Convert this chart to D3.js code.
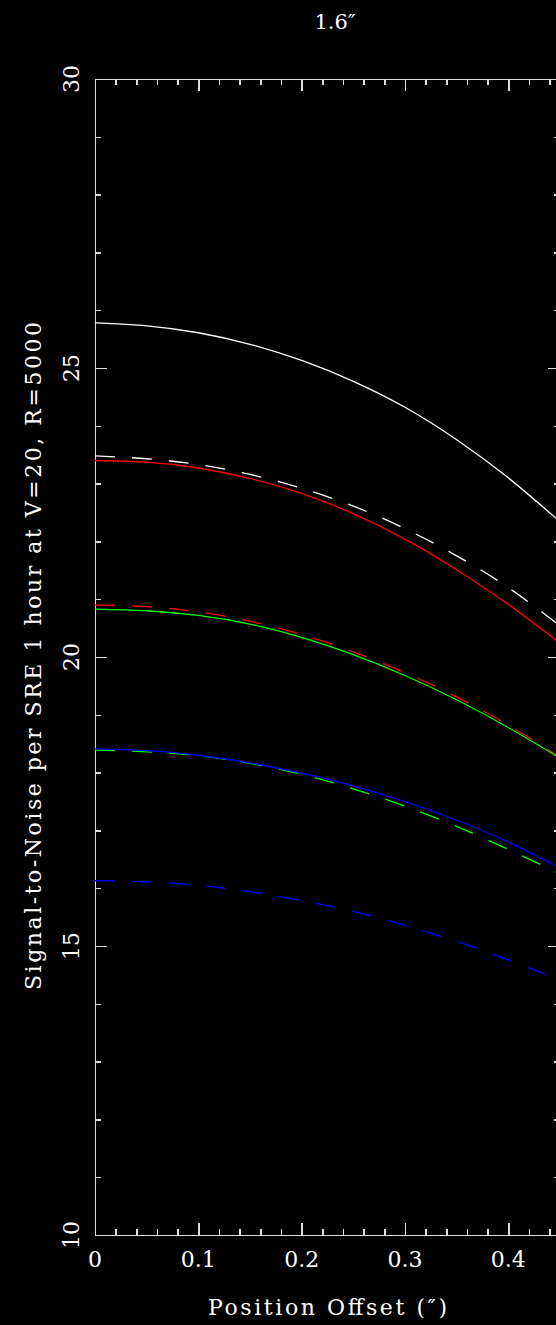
<!DOCTYPE html>
<html>
<head>
<meta charset="utf-8">
<script src="https://cdn.jsdelivr.net/npm/d3@7"></script>
<style>
  body { margin: 0; background: #000; }
  svg { display: block; }
  text { font-family: "DejaVu Serif", serif; fill: #fff; }
</style>
</head>
<body>
<script>

// position offset (arcsec) and S/N curves
const offsets = [0, 0.05, 0.1, 0.15, 0.2, 0.25, 0.3, 0.35, 0.4, 0.45];
const whiteSolid  = [25.78, 25.73, 25.61, 25.41, 25.13, 24.77, 24.32, 23.76, 23.10, 22.34];
const whiteDashed = [23.48, 23.43, 23.33, 23.16, 22.92, 22.61, 22.22, 21.75, 21.20, 20.54];
const redSolid    = [23.40, 23.37, 23.27, 23.09, 22.83, 22.48, 22.04, 21.51, 20.91, 20.24];
const redDashed   = [20.90, 20.87, 20.78, 20.62, 20.39, 20.09, 19.73, 19.31, 18.82, 18.27];
const greenSolid  = [20.83, 20.80, 20.72, 20.57, 20.34, 20.04, 19.68, 19.26, 18.78, 18.25];
const greenDashed = [18.39, 18.36, 18.29, 18.16, 17.97, 17.72, 17.42, 17.07, 16.67, 16.25];
const blueSolid   = [18.41, 18.38, 18.30, 18.17, 17.99, 17.77, 17.50, 17.18, 16.80, 16.35];
const blueDashed  = [16.13, 16.11, 16.05, 15.94, 15.79, 15.60, 15.36, 15.08, 14.76, 14.41];

const xTicks = [0, 0.1, 0.2, 0.3, 0.4];
const yTicks = [10, 15, 20, 25, 30];

const title = "1.6\u2033";
const xTitle = "Position Offset (\u2033)";
const yTitle = "Signal-to-Noise per SRE 1 hour at V=20, R=5000";

var w = 556, h = 1325;
const margin = {top: 79, left: 95, right: 560, bottom: 1235};

const svg = d3.select("body").append("svg")
    .attr("width", w)
    .attr("height", h);

svg.append("rect").attr("width", w).attr("height", h).attr("fill", "#000");

const x = d3.scaleLinear().domain([0, 0.45]).range([margin.left, margin.right]);
const y = d3.scaleLinear().domain([10, 30]).range([margin.bottom, margin.top]);

const minorX = d3.range(0, 0.451, 0.02).map(d => +d.toFixed(2));
const minorY = d3.range(10, 31, 1);

function styleAxis(sel) {
    sel.selectAll("path").attr("stroke", "#ddd").attr("stroke-width", 1.5);
    sel.selectAll("line").attr("stroke", "#ddd").attr("stroke-width", 1.5);
    sel.attr("shape-rendering", "crispEdges");
}

// frame + ticks (all pointing inward)
[[d3.axisRight(y), minorY, 6, yTicks, 12, `translate(${margin.left},0)`],
 [d3.axisLeft(y), minorY, 6, yTicks, 12, `translate(${margin.right},0)`],
 [d3.axisTop(x), minorX, 6, xTicks, 12, `translate(0,${margin.bottom})`],
 [d3.axisBottom(x), minorX, 6, xTicks, 12, `translate(0,${margin.top})`]
].forEach(a => {
    svg.append("g").attr("transform", a[5])
        .call(a[0].tickValues(a[1]).tickSize(a[2]).tickSizeOuter(0).tickFormat(""))
        .call(styleAxis);
    svg.append("g").attr("transform", a[5])
        .call(a[0].tickValues(a[3]).tickSize(a[4]).tickSizeOuter(0).tickFormat(""))
        .call(styleAxis);
});

// tick labels
svg.append("g").selectAll("text")
    .data(xTicks)
    .enter().append("text")
    .attr("x", d => x(d))
    .attr("y", 1267)
    .attr("text-anchor", "middle")
    .style("font-size", "22px")
    .text(d => d === 0 ? "0" : d3.format(".1f")(d));

svg.append("g").selectAll("text")
    .data(yTicks)
    .enter().append("text")
    .attr("transform", d => "translate(79," + y(d) + ") rotate(-90)")
    .attr("text-anchor", "middle")
    .style("font-size", "22px")
    .text(d => d);

// titles
svg.append("text")
    .attr("x", 335).attr("y", 29)
    .attr("text-anchor", "middle")
    .style("font-size", "21px")
    .text(title);

svg.append("text")
    .attr("x", 208).attr("y", 1315)
    .attr("textLength", 239)
    .attr("lengthAdjust", "spacing")
    .style("font-size", "22px")
    .text(xTitle);

svg.append("text")
    .attr("transform", "translate(41,990) rotate(-90)")
    .attr("textLength", 668)
    .attr("lengthAdjust", "spacing")
    .style("font-size", "22px")
    .text(yTitle);

// curves
const series = [
    {v: whiteSolid,  color: "#ffffff", dash: null},
    {v: whiteDashed, color: "#ffffff", dash: "20,17"},
    {v: redSolid,    color: "#ff0000", dash: null},
    {v: redDashed,   color: "#ff0000", dash: "20,17"},
    {v: greenSolid,  color: "#00ff00", dash: null},
    {v: greenDashed, color: "#00ff00", dash: "20,17"},
    {v: blueSolid,   color: "#0000ff", dash: null},
    {v: blueDashed,  color: "#0000ff", dash: "20,17"}
];

const line = d3.line()
    .x((d, i) => x(offsets[i]))
    .y(d => y(d))
    .curve(d3.curveNatural);

svg.append("g").selectAll("path")
    .data(series)
    .enter().append("path")
    .attr("d", d => line(d.v))
    .attr("fill", "none")
    .attr("stroke", d => d.color)
    .attr("stroke-width", 1.3)
    .attr("stroke-dasharray", d => d.dash);

</script>
</body>
</html>
